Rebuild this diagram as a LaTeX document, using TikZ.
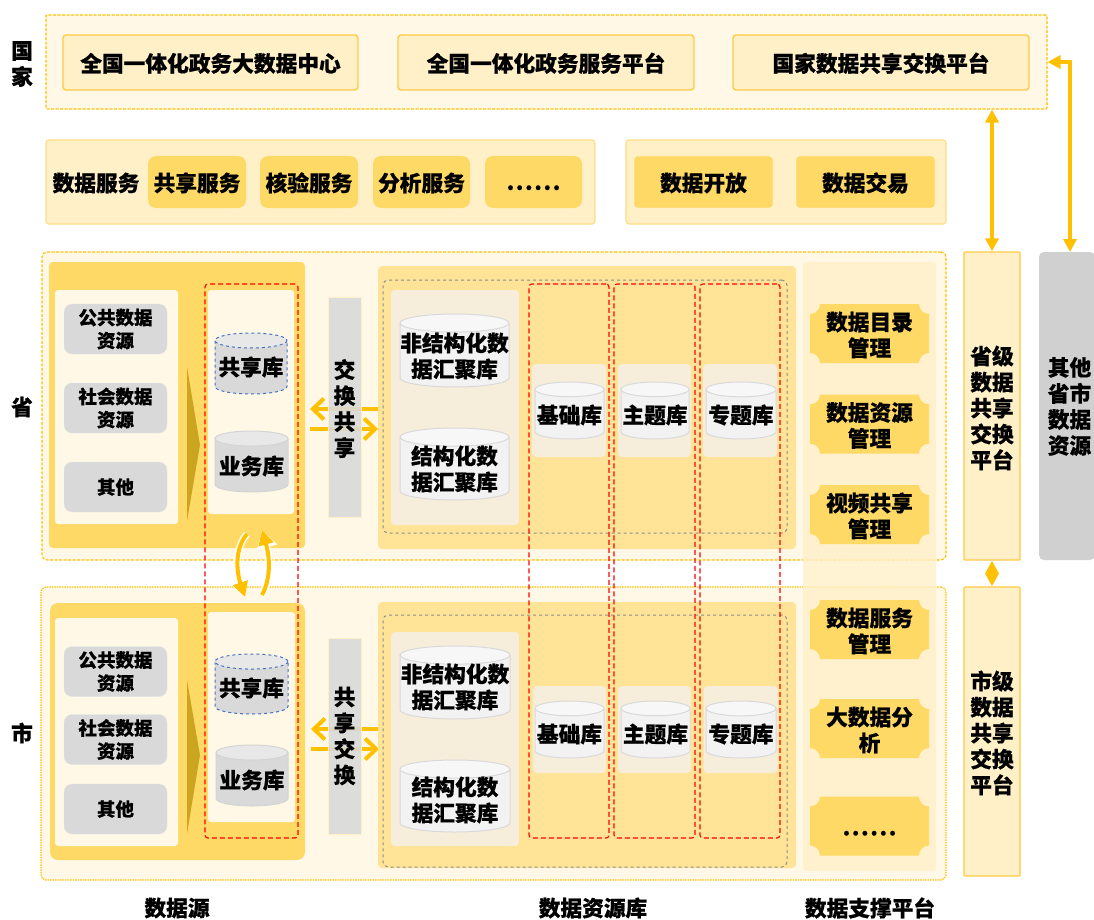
\documentclass[tikz,border=0pt]{standalone}
\usepackage{fontspec}
\setmainfont{Noto Sans CJK SC}[BoldFeatures={FakeBold=0.5}]
\usetikzlibrary{arrows.meta}
\definecolor{goldline}{HTML}{FFC000}
\definecolor{softline}{HTML}{FFCB45}
\definecolor{paleline}{HTML}{FFDC85}
\definecolor{goldfill}{HTML}{FFD966}
\definecolor{creamfill}{HTML}{FFF0C8}
\definecolor{ivoryfill}{HTML}{FFF8E6}
\definecolor{sandfill}{HTML}{FFE396}
\definecolor{poolfill}{HTML}{F6EEDA}
\definecolor{greyfill}{HTML}{D9D9D9}
\definecolor{otherfill}{HTML}{D0D0D0}
\definecolor{sharedash}{HTML}{4472C4}
\definecolor{chevfill}{HTML}{CCA520}
\tikzset{
  bigtext/.style={font=\bfseries\fontsize{21.7}{26}\selectfont,align=center,inner sep=0pt},
  midtext/.style={font=\bfseries\fontsize{18.5}{23}\selectfont,align=center,inner sep=0pt},
  onerow/.style={text height=21pt,text depth=2.6pt},
  scopebox/.style={draw=goldline,fill=ivoryfill,rounded corners=5pt,line width=1.1pt},
  levelbox/.style={scopebox,dash pattern=on 3pt off 1.5pt},
  citybox/.style={scopebox,dash pattern=on 1.5pt off 1pt},
  sysbox/.style={bigtext,onerow,draw=softline,fill=creamfill,rounded corners=3pt,line width=1.4pt},
  svcpanel/.style={draw=paleline,fill=creamfill,rounded corners=3pt,line width=1.2pt},
  svcitem/.style={bigtext,onerow,fill=goldfill,rounded corners=8pt,minimum height=52pt},
  openitem/.style={bigtext,onerow,fill=goldfill,draw=white,rounded corners=3pt,minimum height=52pt,minimum width=139pt},
  srcblock/.style={fill=goldfill,rounded corners=4pt},
  srcinner/.style={fill=ivoryfill,rounded corners=3pt},
  srcitem/.style={midtext,fill=greyfill,draw=black!10,rounded corners=8pt,minimum width=103pt,minimum height=50pt},
  dbblock/.style={fill=sandfill,rounded corners=4pt},
  greydash/.style={draw=black!45,dashed,rounded corners=5pt,line width=1pt},
  reddash/.style={draw=red,dash pattern=on 5pt off 3pt,rounded corners=3pt,line width=1.1pt},
  poolbox/.style={fill=poolfill,rounded corners=4pt},
  swapbar/.style={bigtext,fill=greyfill,fill opacity=.9,text opacity=1,draw=creamfill},
  platbox/.style={draw=softline,fill=creamfill,rounded corners=1pt,line width=1.4pt,minimum width=56pt},
  dbcyl/.style={draw=black!15,line width=1pt,fill=black!5},
  bizcyl/.style={draw=black!17,line width=1pt,fill=greyfill},
  sharecyl/.style={draw=sharedash,dashed,line width=1pt,fill=greyfill},
  linkarrow/.style={draw=goldline,line width=4.8pt,{Triangle[length=13pt,width=13pt]}-{Triangle[length=13pt,width=13pt]}},
  flowarrow/.style={draw=goldline,line width=4pt,-{Straight Barb[length=11pt,width=21pt]}},
  swaparrow/.style={draw=goldline,line width=4pt,-{Triangle[length=15pt,width=15pt]},
    preaction={draw=white,line width=7pt,-{Triangle[length=18pt,width=20pt]}}},
}
\newcommand{\ticketnode}[4]{
  \fill[goldfill] ({#2-59.5},{#3-19.5}) arc[start angle=90,end angle=0,radius=10] -- ({#2+49.5},{#3-29.5})
    arc[start angle=180,end angle=90,radius=10] -- ({#2+59.5},{#3+19.5})
    arc[start angle=270,end angle=180,radius=10] -- ({#2-49.5},{#3+29.5})
    arc[start angle=0,end angle=-90,radius=10] -- cycle;
  \node[bigtext] (#1) at (#2,{#3+1.5}) {#4};
}
\newcommand{\cylnode}[9]{
  \pgfmathsetmacro{\cylry}{4.5+#6/24}
  \path[#1] ({#4-#6/2},{#5-#7/2+\cylry}) -- ({#4-#6/2},{#5+#7/2-\cylry})
    arc[start angle=180,end angle=0,x radius=#6/2,y radius=\cylry] -- ({#4+#6/2},{#5-#7/2+\cylry});
  \path[#1,fill=#2] (#4,{#5-#7/2+\cylry}) ellipse[x radius=#6/2,y radius=\cylry];
  \node[bigtext] (#3) at (#4,#8) {#9};
}
\newcommand{\dotrow}{\rule{0pt}{16pt}.\kern1.6pt.\kern1.6pt.\kern1.6pt.\kern1.6pt.\kern1.6pt.}
\begin{document}
\begin{tikzpicture}[x=1pt,y=-1pt]
  \useasboundingbox (0,0) rectangle (1094,920);
  \node[levelbox,rounded corners=1pt,minimum width=1001pt,minimum height=94pt] (nation) at (546.5,62) {};
  \node[sysbox,minimum width=295pt,minimum height=55pt] (bigdata) at (210.5,62.5) {全国一体化政务大数据中心};
  \node[sysbox,minimum width=296pt,minimum height=55pt] (govserv) at (546,62.5) {全国一体化政务服务平台};
  \node[sysbox,minimum width=296pt,minimum height=55pt] (natswap) at (881,62.5) {国家数据共享交换平台};
  \node[bigtext] (lnation) at (22,64) {国\\家};
  \node[svcpanel,minimum width=549pt,minimum height=84pt] (svcpanel) at (320.5,182) {};
  \node[bigtext,onerow] (lsvc) at (96,182) {数据服务};
  \node[svcitem,minimum width=98pt] (svcshare) at (197,182) {共享服务};
  \node[svcitem,minimum width=98pt] (svccheck) at (309,182) {核验服务};
  \node[svcitem,minimum width=97pt] (svcana) at (421.5,182) {分析服务};
  \node[bigtext,fill=goldfill,rounded corners=8pt,minimum height=52pt,minimum width=97pt] (svcmore) at (533.5,182) {\dotrow};
  \node[svcpanel,minimum width=320pt,minimum height=84pt] (openpanel) at (786,182) {};
  \node[openitem] (open) at (703.5,182) {数据开放};
  \node[openitem] (trade) at (865.5,182) {数据交易};
  \node[levelbox,minimum width=904pt,minimum height=308pt] (prov) at (494,406) {};
  \node[citybox,minimum width=905pt,minimum height=293pt] (city) at (493.5,733.5) {};
  \node[fill=creamfill,fill opacity=.8,rounded corners=3pt,minimum width=133pt,minimum height=609pt] (support) at (869.5,566.5) {};
  \node[bigtext] (lprov) at (22,407) {省};
  \node[bigtext] (lcity) at (22,733) {市};
  \node[srcblock,minimum width=256pt,minimum height=286pt] (psrc) at (177,405) {};
  \node[srcinner,minimum width=123pt,minimum height=234pt] (psrcl) at (116.5,407) {};
  \node[srcinner,minimum width=86pt,minimum height=224pt] (psrcr) at (251,402) {};
  \node[srcitem] (ppub) at (115.5,329) {公共数据\\资源};
  \node[srcitem] (psoc) at (115.5,408) {社会数据\\资源};
  \node[srcitem] (poth) at (115.5,487) {其他};
  \fill[chevfill] (187,367) -- (200,445) -- (187,521) -- cycle;
  \cylnode{sharecyl}{black!9}{pshare}{251}{363.5}{72}{61}{367}{共享库}
  \cylnode{bizcyl}{black!9}{pbiz}{251.5}{461.5}{73}{61}{466}{业务库}
  \coordinate (pswapin) at (378,409);
  \coordinate (pswapout) at (310,409);
  \coordinate (pswapin2) at (310,429);
  \coordinate (pswapout2) at (378,429);
  \draw[flowarrow] (pswapin) -- (pswapout);
  \draw[flowarrow] (pswapin2) -- (pswapout2);
  \node[swapbar,minimum width=33pt,minimum height=220pt] (pbar) at (344.5,407) {};
  \node[bigtext] (tpbar) at (344.5,408.5) {交\\换\\共\\享};
  \node[dbblock,minimum width=418pt,minimum height=283pt] (pdb) at (587,407.5) {};
  \node[greydash,minimum width=404pt,minimum height=253pt] (pgrey) at (585,406.5) {};
  \node[poolbox,minimum width=128pt,minimum height=235pt] (ppool) at (455,407.5) {};
  \cylnode{dbcyl}{black!3}{punst}{454.5}{350.5}{109}{73}{356}{非结构化数\\据汇聚库}
  \cylnode{dbcyl}{black!3}{pstru}{454.5}{464}{109}{72}{469}{结构化数\\据汇聚库}
  \node[poolbox,minimum width=74pt,minimum height=93pt] (pbasep) at (569,410.5) {};
  \node[poolbox,minimum width=73pt,minimum height=93pt] (ptopicp) at (654.5,410.5) {};
  \node[poolbox,minimum width=74pt,minimum height=93pt] (pspecp) at (740,410.5) {};
  \cylnode{dbcyl}{black!3}{pbase}{569.5}{410.5}{69}{57}{415}{基础库}
  \cylnode{dbcyl}{black!3}{ptopic}{655}{410.5}{68}{57}{415}{主题库}
  \cylnode{dbcyl}{black!3}{pspec}{741}{410.5}{70}{57}{415}{专题库}
  \node[srcblock,rounded corners=8pt,minimum width=255pt,minimum height=257pt] (csrc) at (177.5,731.5) {};
  \node[srcinner,minimum width=123pt,minimum height=228pt] (csrcl) at (116.5,732) {};
  \node[srcinner,minimum width=87pt,minimum height=210pt] (csrcr) at (251.5,717) {};
  \node[srcitem] (cpub) at (115.5,671.5) {公共数据\\资源};
  \node[srcitem] (csoc) at (115.5,739.5) {社会数据\\资源};
  \node[srcitem] (coth) at (115.5,809) {其他};
  \fill[chevfill] (187,680) -- (200,755) -- (187,834) -- cycle;
  \cylnode{sharecyl}{black!9}{cshare}{251.5}{684}{73}{60}{688}{共享库}
  \cylnode{bizcyl}{black!9}{cbiz}{252}{775.5}{72}{61}{780}{业务库}
  \coordinate (cswapin) at (379,729);
  \coordinate (cswapout) at (311,729);
  \coordinate (cswapin2) at (311,749);
  \coordinate (cswapout2) at (379,749);
  \draw[flowarrow] (cswapin) -- (cswapout);
  \draw[flowarrow] (cswapin2) -- (cswapout2);
  \node[swapbar,minimum width=33pt,minimum height=196pt] (cbar) at (344.5,736) {};
  \node[bigtext] (tcbar) at (344.5,736) {共\\享\\交\\换};
  \node[dbblock,minimum width=418pt,minimum height=266pt] (cdb) at (587,735) {};
  \node[greydash,minimum width=404pt,minimum height=252pt] (cgrey) at (585,741) {};
  \node[poolbox,minimum width=128pt,minimum height=214pt] (cpool) at (455,739) {};
  \cylnode{dbcyl}{black!3}{cunst}{455}{682.5}{110}{73}{687}{非结构化数\\据汇聚库}
  \cylnode{dbcyl}{black!3}{cstru}{455}{796}{110}{72}{800}{结构化数\\据汇聚库}
  \node[poolbox,minimum width=73pt,minimum height=87pt] (cbasep) at (569.5,729.5) {};
  \node[poolbox,minimum width=73pt,minimum height=87pt] (ctopicp) at (654.5,729.5) {};
  \node[poolbox,minimum width=74pt,minimum height=87pt] (cspecp) at (740.5,729.5) {};
  \cylnode{dbcyl}{black!3}{cbase}{569.5}{729.5}{69}{57}{734}{基础库}
  \cylnode{dbcyl}{black!3}{ctopic}{655.5}{729.5}{69}{57}{734}{主题库}
  \cylnode{dbcyl}{black!3}{cspec}{741}{729.5}{70}{57}{734}{专题库}
  \node[reddash,minimum width=93pt,minimum height=554pt] (rsrc) at (251.5,561) {};
  \node[reddash,minimum width=80pt,minimum height=554pt] (rbase) at (569,561) {};
  \node[reddash,minimum width=81pt,minimum height=554pt] (rtopic) at (654.5,561) {};
  \node[reddash,minimum width=80pt,minimum height=554pt] (rspec) at (740,561) {};
  \ticketnode{mcat}{869.5}{333.5}{数据目录\\管理}
  \ticketnode{mres}{869.5}{424}{数据资源\\管理}
  \ticketnode{mvid}{869.5}{514.5}{视频共享\\管理}
  \ticketnode{msvc}{869.5}{629.5}{数据服务\\管理}
  \ticketnode{mana}{869.5}{728.5}{大数据分\\析}
  \ticketnode{mmore}{869.5}{826}{\dotrow}
  \node[platbox,minimum height=308pt] (pplat) at (992,406) {};
  \node[bigtext] (tpplat) at (992,408) {省级\\数据\\共享\\交换\\平台};
  \node[platbox,minimum height=289pt] (cplat) at (992,731.5) {};
  \node[bigtext] (tcplat) at (992,733) {市级\\数据\\共享\\交换\\平台};
  \node[fill=otherfill,rounded corners=5pt,minimum width=56pt,minimum height=308pt] (other) at (1067,406) {};
  \node[bigtext] (tother) at (1069.5,406.5) {其他\\省市\\数据\\资源};
  \coordinate (othertop) at (1070,252);
  \draw[linkarrow] (pplat.north) -- (pplat.north |- nation.south);
  \draw[linkarrow] (pplat.south) -- (cplat.north);
  \draw[linkarrow] (othertop) |- (nation.east);
  \coordinate (swapa) at (247,534);
  \coordinate (swapb) at (245,597);
  \coordinate (swapc) at (262,595);
  \coordinate (swapd) at (262,530);
  \draw[swaparrow] (swapa) .. controls (235,548) and (236,570) .. (swapb);
  \draw[swaparrow] (swapc) .. controls (271,578) and (270,558) .. (swapd);
  \node[bigtext] (lsrc) at (177,908) {数据源};
  \node[bigtext] (lres) at (593,908) {数据资源库};
  \node[bigtext] (lsup) at (870,908) {数据支撑平台};
\end{tikzpicture}
\end{document}
